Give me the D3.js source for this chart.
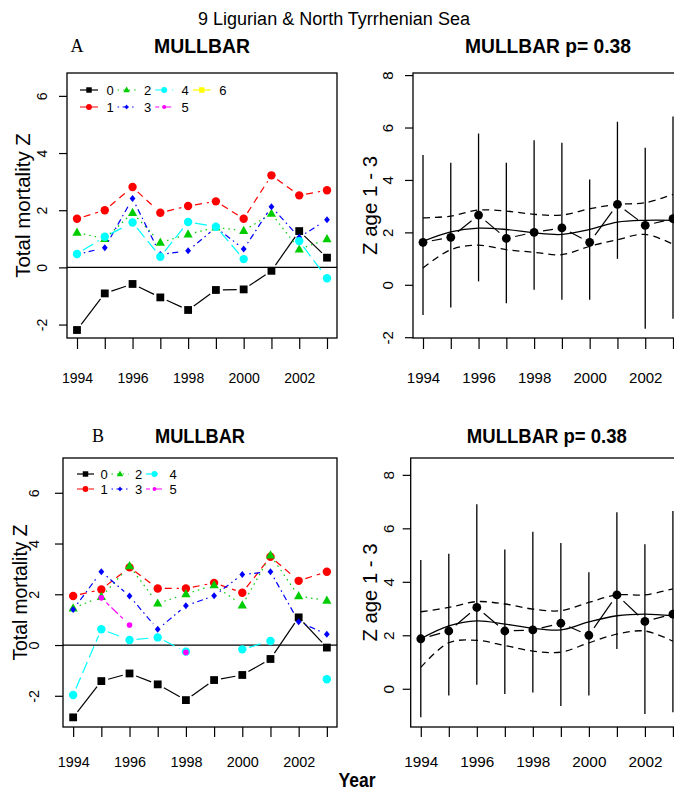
<!DOCTYPE html>
<html>
<head>
<meta charset="utf-8">
<style>
  body { margin: 0; background: #fff; }
  svg text { font-family: "Liberation Sans", Arial, sans-serif; fill: #000; }
</style>
</head>
<body>
<svg id="chart" width="674" height="791"></svg>
<script src="https://d3js.org/d3.v7.min.js"></script>
<script>
    // ---- data ----
    const years = [1994, 1995, 1996, 1997, 1998, 1999, 2000, 2001, 2002, 2003]
    const yearLabels = [1994, 1996, 1998, 2000, 2002]
    const ages = ["0", "1", "2", "3", "4", "5", "6"]

    // panel A, total mortality Z by age
    const zA0 = [-2.19, -0.91, -0.58, -1.05, -1.49, -0.79, -0.77, -0.12, 1.27, 0.34]
    const zA1 = [1.70, 2.00, 2.81, 1.91, 2.15, 2.31, 1.70, 3.22, 2.52, 2.70]
    const zA2 = [1.22, 1.00, 1.91, 0.87, 1.16, 1.40, 1.28, 1.88, 0.63, 0.99]
    const zA3 = [0.45, 0.69, 2.41, 0.45, 0.58, 1.40, 0.64, 2.12, 1.05, 1.67]
    const zA4 = [0.47, 1.07, 1.57, 0.37, 1.59, 1.42, 0.29, null, 0.92, -0.38]
    const zA5 = [null, null, null, null, null, null, null, null, null, null]
    const zA6 = [null, null, null, null, null, null, null, null, null, null]

    // panel A, Z age 1-3 with interval and smooth fit
    const zA13 = [1.62, 1.81, 2.66, 1.77, 2.00, 2.17, 1.62, 3.07, 2.27, 2.52]
    const zA13Lo = [-1.15, -0.87, 0.13, -0.70, -0.19, -0.57, -0.57, 0.99, -1.68, -1.30]
    const zA13Hi = [4.95, 4.66, 5.77, 4.66, 5.51, 5.42, 4.02, 6.22, 5.23, 6.42]
    const fitA = [1.66, 2.02, 2.16, 2.11, 1.98, 1.92, 2.11, 2.39, 2.46, 2.46]
    const fitALo = [0.64, 1.34, 1.51, 1.34, 1.24, 1.15, 1.47, 1.72, 1.92, 1.55]
    const fitAHi = [2.55, 2.62, 2.85, 2.81, 2.69, 2.66, 2.90, 3.07, 3.13, 3.45]

    // panel B, total mortality Z by age
    const zB0 = [-2.85, -1.42, -1.12, -1.55, -2.17, -1.38, -1.18, -0.55, 1.09, -0.10]
    const zB1 = [1.93, 2.19, 3.06, 2.23, 2.23, 2.45, 2.06, 3.48, 2.53, 2.89]
    const zB2 = [1.45, 1.90, 3.11, 1.64, 2.01, 2.36, 1.57, 3.54, 1.93, 1.75]
    const zB3 = [1.40, 2.89, 1.93, 0.62, 1.55, 1.94, 2.78, 2.89, 0.92, 0.42]
    const zB4 = [-1.97, 0.62, 0.20, 0.30, -0.26, null, -0.17, 0.16, null, -1.35]
    const zB5 = [null, 1.86, 0.79, null, -0.29, null, null, null, null, null]

    // panel B, Z age 1-3
    const zB13 = [1.87, 2.16, 3.04, 2.16, 2.20, 2.45, 2.00, 3.51, 2.52, 2.79]
    const zB13Lo = [-1.07, -0.25, 0.15, -0.20, -0.14, -0.64, -0.25, 1.49, -0.94, -0.88]
    const zB13Hi = [4.82, 5.05, 6.90, 5.21, 5.87, 5.45, 4.36, 6.60, 5.40, 6.65]
    const fitB = [1.87, 2.35, 2.54, 2.42, 2.26, 2.20, 2.50, 2.73, 2.79, 2.73]
    const fitBLo = [0.80, 1.72, 1.81, 1.62, 1.41, 1.37, 1.72, 2.04, 2.16, 1.78]
    const fitBHi = [2.88, 3.04, 3.26, 3.17, 2.98, 2.92, 3.23, 3.51, 3.51, 3.74]

    // ---- styles (R colours 1..7, lty 1..6, pch) ----
    const ageStyles = [
        { color: "#000000", dash: null, shape: "square" },
        { color: "#ff0000", dash: "7,5", shape: "circle" },
        { color: "#00cd00", dash: "1.5,4", shape: "triangle" },
        { color: "#0000ff", dash: "1.5,3.5,6,3.5", shape: "diamond" },
        { color: "#00ffff", dash: "12,5", shape: "circle" },
        { color: "#ff00ff", dash: "4,3,9,3", shape: "dot" },
        { color: "#ffff00", dash: null, shape: "square" }
    ]

    const svg = d3.select("#chart")
    const xDomain = [1993.64, 2003.36]

    function marker(g, shape, cx, cy, k, color) {
        if (shape === "square") {
            g.append("rect").attr("x", cx - 3.9 * k).attr("y", cy - 3.9 * k)
                .attr("width", 7.8 * k).attr("height", 7.8 * k).attr("fill", color)
        } else if (shape === "circle") {
            g.append("circle").attr("cx", cx).attr("cy", cy).attr("r", 4.2 * k).attr("fill", color)
        } else if (shape === "dot") {
            g.append("circle").attr("cx", cx).attr("cy", cy).attr("r", 2.8 * k).attr("fill", color)
        } else if (shape === "triangle") {
            g.append("polygon").attr("fill", color)
                .attr("points", [[cx, cy - 5 * k], [cx + 4.6 * k, cy + 3.2 * k], [cx - 4.6 * k, cy + 3.2 * k]].join(" "))
        } else if (shape === "diamond") {
            g.append("polygon").attr("fill", color)
                .attr("points", [[cx, cy - 3.5 * k], [cx + 2.9 * k, cy], [cx, cy + 3.5 * k], [cx - 2.9 * k, cy]].join(" "))
        }
    }

    // R type="b": line pieces that stop short of each point
    function typeB(g, vals, x, y, color, dash, gap) {
        for (let i = 0; i < vals.length - 1; i++) {
            let a = vals[i], b = vals[i + 1]
            if (a == null || b == null) continue
            let x1 = x(years[i]), y1 = y(a), x2 = x(years[i + 1]), y2 = y(b)
            let d = Math.hypot(x2 - x1, y2 - y1)
            if (d <= 2 * gap) continue
            let ux = (x2 - x1) / d, uy = (y2 - y1) / d
            g.append("line")
                .attr("x1", x1 + ux * gap).attr("y1", y1 + uy * gap)
                .attr("x2", x2 - ux * gap).attr("y2", y2 - uy * gap)
                .attr("stroke", color).attr("stroke-width", 1.2)
                .attr("stroke-dasharray", dash)
        }
    }

    function frame(cfg) {
        let g = svg.append("g")
        let x = d3.scaleLinear().domain(xDomain).range([cfg.x0, cfg.x1])
        let y = d3.scaleLinear().domain(cfg.yd).range([cfg.y1, cfg.y0])

        let xAxis = d3.axisBottom(x).tickValues(years).tickSize(cfg.xTickLen)
            .tickFormat(d => yearLabels.includes(d) ? String(d) : "")
        let gx = g.append("g").attr("transform", `translate(0,${cfg.y1})`).call(xAxis)
        gx.select(".domain").remove()
        gx.selectAll("line").attr("stroke", "#000").attr("stroke-width", 1.2)
        gx.selectAll("text").attr("y", cfg.xLabY - cfg.y1).attr("dy", "0.35em")
            .attr("fill", "#000").style("font-size", cfg.tickFont + "px")

        let yAxis = d3.axisLeft(y).tickValues(cfg.yTicks).tickSize(8).tickFormat(d => String(d))
        let gy = g.append("g").attr("transform", `translate(${cfg.x0},0)`).call(yAxis)
        gy.select(".domain").remove()
        gy.selectAll("line").attr("stroke", "#000").attr("stroke-width", 1.2)
        gy.selectAll("text").attr("x", 0).attr("dy", "0.35em").attr("text-anchor", "middle")
            .attr("transform", `translate(${cfg.yLabX - cfg.x0},0) rotate(-90)`)
            .attr("fill", "#000").style("font-size", cfg.tickFont + "px")

        g.append("text")
            .attr("transform", `translate(${cfg.ylabX},${(cfg.y0 + cfg.y1) / 2}) rotate(-90)`)
            .attr("text-anchor", "middle").attr("dy", "0.35em")
            .style("font-size", cfg.ylabSize + "px")
            .text(cfg.ylab)

        g.append("text")
            .attr("x", (cfg.x0 + cfg.x1) / 2).attr("y", cfg.titleY)
            .attr("text-anchor", "middle")
            .attr("textLength", cfg.titleW).attr("lengthAdjust", "spacingAndGlyphs")
            .style("font-size", "20px").style("font-weight", "bold")
            .text(cfg.title)

        let plot = g.append("g")
        g.append("rect").attr("x", cfg.x0).attr("y", cfg.y0)
            .attr("width", cfg.x1 - cfg.x0).attr("height", cfg.y1 - cfg.y0)
            .attr("fill", "none").attr("stroke", "#000").attr("stroke-width", 1.3)
        return { plot, x, y }
    }

    function agePanel(cfg, series, legendCfg) {
        let { plot, x, y } = frame(cfg)
        plot.append("line").attr("x1", cfg.x0).attr("x2", cfg.x1)
            .attr("y1", y(0)).attr("y2", y(0)).attr("stroke", "#000").attr("stroke-width", 1.2)
        series.forEach((vals, a) => {
            let st = ageStyles[a]
            typeB(plot, vals, x, y, st.color, st.dash, 7)
            vals.forEach((v, i) => {
                if (v != null) marker(plot, st.shape, x(years[i]), y(v), 1, st.color)
            })
        })
        // legend, filled column by column
        let lg = plot.append("g")
        series.forEach((vals, a) => {
            let st = ageStyles[a]
            let col = Math.floor(a / 2), row = a % 2
            let lx = legendCfg.x + col * legendCfg.dx
            let ly = legendCfg.y + row * legendCfg.dy
            lg.append("line").attr("x1", lx).attr("x2", lx + legendCfg.len)
                .attr("y1", ly).attr("y2", ly).attr("stroke", st.color)
                .attr("stroke-width", 1.2).attr("stroke-dasharray", st.dash)
            marker(lg, st.shape, lx + legendCfg.len / 2, ly, 0.7, st.color)
            lg.append("text").attr("x", lx + legendCfg.textDx).attr("y", ly)
                .attr("dy", "0.35em").attr("text-anchor", "middle")
                .style("font-size", "13px").text(ages[a])
        })
    }

    function fitPanel(cfg, pts, lo, hi, fit, fitLo, fitHi) {
        let { plot, x, y } = frame(cfg)
        let line = d3.line().x((d, i) => x(years[i])).y(d => y(d)).curve(d3.curveCatmullRom.alpha(0.5))
        plot.append("path").attr("d", line(fit)).attr("fill", "none")
            .attr("stroke", "#000").attr("stroke-width", 1.3)
        plot.append("path").attr("d", line(fitLo)).attr("fill", "none")
            .attr("stroke", "#000").attr("stroke-width", 1.3).attr("stroke-dasharray", "7,5")
        plot.append("path").attr("d", line(fitHi)).attr("fill", "none")
            .attr("stroke", "#000").attr("stroke-width", 1.3).attr("stroke-dasharray", "7,5")
        years.forEach((yr, i) => {
            plot.append("line").attr("x1", x(yr)).attr("x2", x(yr))
                .attr("y1", y(lo[i])).attr("y2", y(hi[i]))
                .attr("stroke", "#000").attr("stroke-width", 1.3)
        })
        typeB(plot, pts, x, y, "#000", null, 9)
        pts.forEach((v, i) => marker(plot, "circle", x(years[i]), y(v), 1.05, "#000"))
    }

    // ---- panels ----
    agePanel({
        x0: 67, x1: 337, y0: 73, y1: 338, yd: [-2.47, 6.8], yTicks: [-2, 0, 2, 4, 6],
        yLabX: 42, ylabX: 23, ylabSize: 20.5, tickFont: 14, xTickLen: 11, xLabY: 378,
        ylab: "Total mortality Z", title: "MULLBAR", titleY: 53, titleW: 96
    }, [zA0, zA1, zA2, zA3, zA4, zA5, zA6], { x: 80, y: 90, dx: 37.6, dy: 17, len: 18, textDx: 30 })

    fitPanel({
        x0: 413, x1: 683, y0: 73, y1: 338, yd: [-2.03, 8.08], yTicks: [-2, 0, 2, 4, 6, 8],
        yLabX: 388, ylabX: 370, ylabSize: 20.5, tickFont: 15, xTickLen: 11, xLabY: 378,
        ylab: "Z age 1 - 3", title: "MULLBAR p= 0.38", titleY: 53, titleW: 166
    }, zA13, zA13Lo, zA13Hi, fitA, fitALo, fitAHi)

    agePanel({
        x0: 63, x1: 337, y0: 458, y1: 727, yd: [-3.23, 7.37], yTicks: [-2, 0, 2, 4, 6],
        yLabX: 34, ylabX: 20, ylabSize: 19.3, tickFont: 14.4, xTickLen: 10, xLabY: 761.7,
        ylab: "Total mortality Z", title: "MULLBAR", titleY: 443, titleW: 90
    }, [zB0, zB1, zB2, zB3, zB4, zB5], { x: 77, y: 474, dx: 34.5, dy: 15, len: 17, textDx: 27 })

    fitPanel({
        x0: 410.7, x1: 683, y0: 458, y1: 727, yd: [-1.43, 8.63], yTicks: [0, 2, 4, 6, 8],
        yLabX: 388.3, ylabX: 370, ylabSize: 20.3, tickFont: 15.3, xTickLen: 10, xLabY: 761.7,
        ylab: "Z age 1 - 3", title: "MULLBAR p= 0.38", titleY: 443, titleW: 160
    }, zB13, zB13Lo, zB13Hi, fitB, fitBLo, fitBHi)

    // ---- page texts ----
    svg.append("text").attr("x", 334).attr("y", 25).attr("text-anchor", "middle")
        .style("font-size", "18px").text("9 Ligurian & North Tyrrhenian Sea")
    svg.append("text").attr("x", 77).attr("y", 52).attr("text-anchor", "middle")
        .style("font-family", "'Liberation Serif', 'Times New Roman', serif").style("font-size", "18px").text("A")
    svg.append("text").attr("x", 98).attr("y", 442).attr("text-anchor", "middle")
        .style("font-family", "'Liberation Serif', 'Times New Roman', serif").style("font-size", "18px").text("B")
    svg.append("text").attr("x", 357).attr("y", 787).attr("text-anchor", "middle")
        .attr("textLength", 37).attr("lengthAdjust", "spacingAndGlyphs")
        .style("font-size", "20px").style("font-weight", "bold").text("Year")
</script>
</body>
</html>
